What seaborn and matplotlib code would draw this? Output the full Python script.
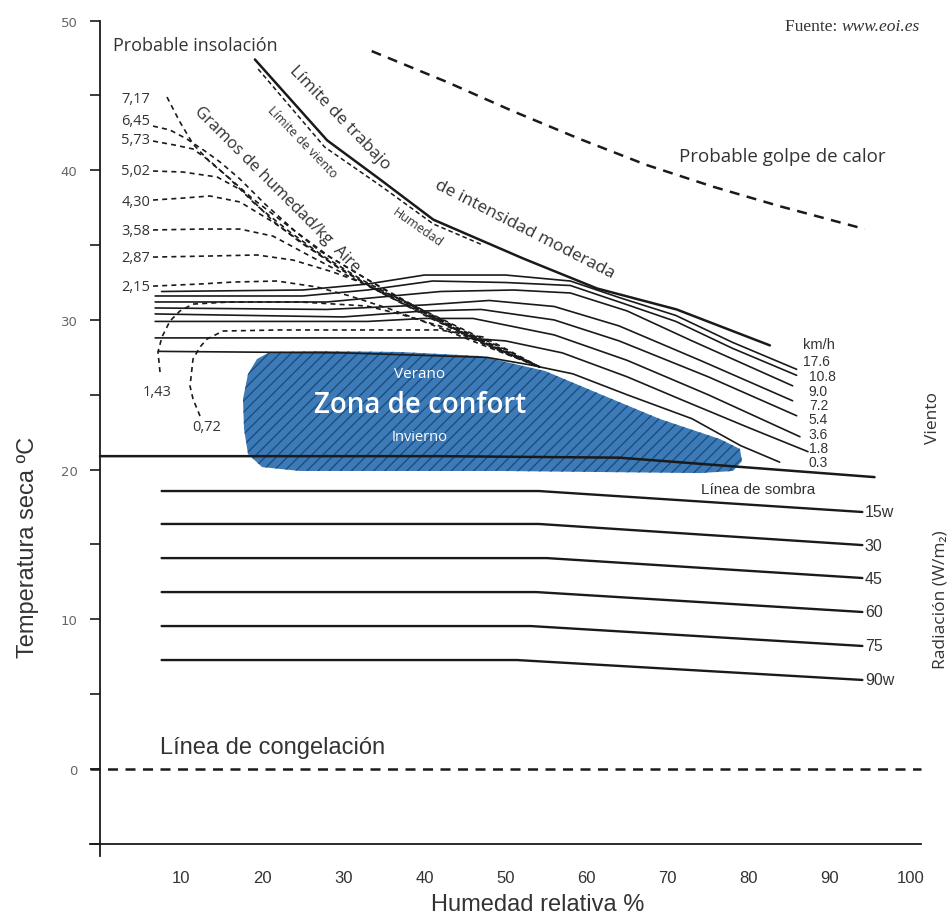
import matplotlib
matplotlib.use("Agg")
import pandas as pd
import matplotlib.pyplot as plt
import seaborn as sns
from matplotlib import font_manager

# --- values (x = humedad relativa %, y = temperatura seca ºC) ---
x_ticks = [10, 20, 30, 40, 50, 60, 70, 80, 90, 100]
y_ticks = [0, 10, 20, 30, 40, 50]
y_minor = [-5, 5, 15, 25, 35, 45]

# wind curves (km/h)
wind_labels = ["17.6", "10.8", "9.0", "7.2", "5.4", "3.6", "1.8", "0.3"]
wind_h = [
    [7.6, 25, 33, 40, 50, 58, 64, 71, 78, 85.9],
    [6.8, 25, 33, 41, 50, 58, 64, 71, 78, 85.9],
    [6.8, 28, 42, 51, 58, 65, 73, 85.4],
    [6.8, 28, 40, 48, 56, 64, 74, 85.4],
    [6.8, 30, 40, 47, 56, 64, 75, 85.9],
    [6.8, 33, 40, 46, 56, 65, 75, 86.3],
    [6.8, 45, 50, 57, 65, 72, 80, 87.3],
    [7.2, 30, 47.7, 53, 58.3, 65, 73, 79, 83.8],
]
wind_t = [
    [31.9, 32.0, 32.4, 33.0, 33.0, 32.6, 31.5, 30.3, 28.5, 26.7],
    [31.6, 31.6, 32.0, 32.6, 32.5, 32.3, 31.2, 29.9, 28.1, 26.3],
    [31.2, 31.2, 31.9, 32.0, 31.8, 30.6, 28.6, 25.6],
    [30.8, 30.7, 31.0, 31.3, 30.9, 29.6, 27.3, 24.6],
    [30.4, 30.2, 30.6, 30.7, 30.0, 28.6, 26.2, 23.6],
    [29.9, 29.9, 30.1, 30.1, 29.0, 27.3, 25.0, 22.2],
    [28.8, 28.8, 28.6, 27.8, 26.2, 24.6, 22.8, 21.2],
    [27.9, 27.8, 27.5, 27.0, 26.4, 25.0, 23.4, 21.6, 20.5],
]

# gramos de humedad / kg aire (dashed curves)
hum_labels = ["7,17", "6,45", "5,73", "5,02", "4,30", "3,58", "2,87", "2,15", "1,43", "0,72"]
hum_h = [
    [8.26, 9.86, 11.47, 13.56, 15.66, 18.87, 23.06, 27.13, 32.06, 36.99, 43.16, 49.32, 54.25],
    [6.54, 8.63, 10.73, 12.95, 14.80, 17.26, 20.35, 24.04, 28.36, 33.29, 39.46, 45.62, 54.25],
    [6.54, 9.25, 11.47, 13.56, 16.03, 19.24, 23.43, 27.50, 32.31, 38.22, 44.39, 50.55, 54.25],
    [6.54, 10.23, 14.43, 17.63, 21.33, 24.66, 28.36, 33.29, 39.46, 45.62, 54.25],
    [6.54, 10.23, 13.56, 17.26, 21.33, 25.52, 29.59, 34.53, 40.69, 46.86, 54.25],
    [6.54, 12.33, 17.26, 21.33, 25.89, 30.83, 35.76, 41.92, 48.09, 54.25],
    [6.54, 13.56, 19.36, 23.80, 28.73, 32.06, 36.99, 43.16, 49.32, 54.25],
    [6.54, 12.33, 16.40, 21.82, 26.76, 30.83, 35.76, 40.69, 46.86, 54.25],
    [7.40, 7.15, 7.64, 8.63, 9.86, 11.47, 16.03, 24.66, 32.92, 36.99, 41.92, 45.99, 50.18, 54.25],
    [12.33, 11.47, 11.10, 11.47, 12.33, 13.19, 15.17, 22.19, 29.59, 41.92, 47.23, 50.55, 54.25],
]
hum_t = [
    [44.89, 43.22, 41.75, 40.55, 39.61, 38.08, 36.34, 34.60, 33.00, 31.40, 29.66, 28.06, 26.85],
    [42.95, 42.69, 42.08, 41.28, 40.55, 39.41, 37.74, 35.94, 34.20, 32.60, 30.73, 29.06, 26.85],
    [41.95, 41.68, 41.42, 40.61, 39.41, 37.68, 35.87, 34.27, 32.67, 31.00, 29.26, 27.72, 26.85],
    [39.95, 39.88, 39.55, 38.61, 36.61, 35.20, 33.87, 32.26, 30.60, 28.92, 26.85],
    [38.01, 38.14, 38.28, 37.88, 36.54, 34.94, 33.40, 31.86, 30.13, 28.52, 26.85],
    [36.01, 36.07, 36.07, 35.60, 34.27, 32.87, 31.53, 29.86, 28.26, 26.85],
    [34.20, 34.27, 34.34, 34.00, 33.20, 32.53, 31.40, 29.79, 28.19, 26.85],
    [32.26, 32.40, 32.53, 32.60, 32.20, 31.60, 30.73, 29.73, 28.39, 26.85],
    [26.52, 27.86, 28.86, 29.93, 30.60, 31.06, 31.20, 31.20, 30.93, 30.39, 29.59, 28.72, 27.72, 26.85],
    [23.58, 24.72, 25.58, 27.39, 28.19, 28.72, 29.26, 29.33, 29.33, 29.33, 28.86, 27.92, 26.85],
]

# radiación (W/m2)
rad_labels = ["15w", "30", "45", "60", "75", "90w"]
rad_h = [
    [7.6, 54.1, 94.0],
    [7.6, 54.1, 94.0],
    [7.6, 55.1, 94.0],
    [7.6, 53.8, 94.0],
    [7.6, 53.1, 94.0],
    [7.6, 51.4, 94.0],
]
rad_t = [
    [18.57, 18.57, 17.17],
    [16.37, 16.37, 14.96],
    [14.09, 14.09, 12.76],
    [11.82, 11.82, 10.49],
    [9.55, 9.55, 8.22],
    [7.28, 7.28, 5.95],
]

# limit lines
trabajo_h = [19.1, 28.0, 34.5, 41.1, 52.2, 61.3, 71.1, 82.6]
trabajo_t = [47.4, 42.0, 39.4, 36.7, 34.1, 32.1, 30.7, 28.3]
viento_h = [19.5, 27.7, 34.5, 41.1, 47.0]
viento_t = [46.76, 41.55, 39.0, 36.41, 35.05]
calor_h = [33.5, 42.8, 50.9, 59.2, 67.4, 75.6, 83.8, 94.3]
calor_t = [47.96, 45.89, 43.95, 42.08, 40.35, 38.9, 37.6, 36.07]
sombra_h = [0, 42, 64, 95.5]
sombra_t = [20.9, 20.9, 20.8, 19.5]
congela_h = [-1.2, 101.2]
congela_t = [0, 0]

# zona de confort outline
comfort_h = [20.96, 27.13, 36.99, 46.86, 54.87, 61.65, 69.05, 76.45, 78.91, 79.16,
             78.05, 73.98, 61.65, 49.32, 36.99, 24.66, 19.98, 18.25, 17.76, 17.63,
             18.25, 19.36]
comfort_t = [27.86, 27.92, 27.86, 27.59, 26.59, 25.05, 23.38, 22.04, 21.38, 20.57,
             19.91, 19.77, 19.84, 19.91, 19.91, 19.91, 20.17, 21.04, 22.71, 24.72,
             26.39, 27.39]


def long_frame(names, hs, ts):
    rows = []
    for name, h_list, t_list in zip(names, hs, ts):
        for i, (h, t) in enumerate(zip(h_list, t_list)):
            rows.append({"curve": name, "order": i, "hum": h, "temp": t})
    return pd.DataFrame(rows)


sns.set_theme(style="white")
names = {f.name for f in font_manager.fontManager.ttflist}
NARROW = "Liberation Sans Narrow" if "Liberation Sans Narrow" in names else "Liberation Sans"
SANS = "Open Sans"
plt.rcParams["font.family"] = [SANS, "DejaVu Sans"]
plt.rcParams["hatch.linewidth"] = 1.0

fig = plt.figure(figsize=(9.51, 9.2), dpi=100)
ax = fig.add_axes([0, 0, 1, 1])
ax.set_facecolor("white")

INK = "#1a1a1a"

# comfort zone
ax.fill(comfort_h, comfort_t, facecolor="#3d7bb8", edgecolor="#1d4d7e",
        hatch="///", linewidth=0, zorder=1)

wind_df = long_frame(wind_labels, wind_h, wind_t)
sns.lineplot(data=wind_df, x="hum", y="temp", units="curve", estimator=None, sort=False,
             color=INK, lw=1.2, ax=ax, legend=False, zorder=3)

hum_df = long_frame(hum_labels, hum_h, hum_t)
sns.lineplot(data=hum_df, x="hum", y="temp", units="curve", estimator=None, sort=False,
             color=INK, lw=1.2, linestyle=(0, (3, 2.5)), ax=ax, legend=False, zorder=3)

rad_df = long_frame(rad_labels, rad_h, rad_t)
sns.lineplot(data=rad_df, x="hum", y="temp", units="curve", estimator=None, sort=False,
             color=INK, lw=1.7, ax=ax, legend=False, zorder=3)

limits = long_frame(["trabajo", "sombra"], [trabajo_h, sombra_h], [trabajo_t, sombra_t])
sns.lineplot(data=limits, x="hum", y="temp", units="curve", estimator=None, sort=False,
             color=INK, lw=1.8, ax=ax, legend=False, zorder=3)

sns.lineplot(x=viento_h, y=viento_t, sort=False, estimator=None, color=INK, lw=1.1,
             linestyle=(0, (3, 2)), ax=ax, zorder=3)
sns.lineplot(x=calor_h, y=calor_t, sort=False, estimator=None, color=INK, lw=1.8,
             linestyle=(0, (4, 3)), ax=ax, zorder=3)
sns.lineplot(x=congela_h, y=congela_t, sort=False, estimator=None, color=INK, lw=1.8,
             linestyle=(0, (4, 3)), ax=ax, zorder=3)

# axes frame
ax.set_xlim(-12.33, 104.93)
ax.set_ylim(-10.02, 51.44)
for side in ["top", "right"]:
    ax.spines[side].set_visible(False)
ax.spines["left"].set_position(("data", 0))
ax.spines["left"].set_bounds(-5.8, 50)
ax.spines["bottom"].set_position(("data", -5))
ax.spines["bottom"].set_bounds(-1.2, 101.2)
for side in ["left", "bottom"]:
    ax.spines[side].set_color(INK)
    ax.spines[side].set_linewidth(1.3)

ax.set_yticks(y_ticks)
ax.set_yticks(y_minor, minor=True)
ax.tick_params(axis="y", which="both", direction="out", length=7.2, width=1.2,
               color=INK, left=True)
ax.tick_params(axis="y", which="major", labelsize=9.5, labelcolor="#666666", pad=9)
for lab in ax.get_yticklabels():
    lab.set_fontfamily("DejaVu Sans")
ax.set_xticks(x_ticks)
ax.tick_params(axis="x", length=0, pad=19, labelsize=12, labelcolor="#333333")
for lab in ax.get_xticklabels():
    lab.set_fontfamily(NARROW)

ax.set_xlabel("Humedad relativa %", fontsize=17, color="#333333", fontfamily=NARROW)
ax.xaxis.set_label_coords(0.565, 1 - 905 / 920)
ax.xaxis.label.set_va("center")
ax.set_ylabel("Temperatura seca ºC", fontsize=17, color="#333333", fontfamily=NARROW)
ax.yaxis.set_label_coords(28 / 951, 1 - 547 / 920)
ax.yaxis.label.set_va("center")
ax.grid(False)

# annotations
txt = dict(color="#333333", zorder=5)
ax.text(1.6, 48.36, "Probable insolación", fontsize=13, ha="left", va="center", **txt)
ax.text(71.4, 40.95, "Probable golpe de calor", fontsize=13.5, ha="left", va="center", **txt)
ax.text(29.6, 43.55, "Límite de trabajo", fontsize=12.5, rotation=-46,
        ha="center", va="center", rotation_mode="anchor", **txt)
ax.text(52.4, 36.07, "de intensidad moderada", fontsize=12.5, rotation=-27,
        ha="center", va="center", rotation_mode="anchor", **txt)
ax.text(24.9, 41.95, "Límite de viento", fontsize=9, rotation=-46,
        ha="center", va="center", rotation_mode="anchor", **txt)
ax.text(39.2, 36.2, "Humedad", fontsize=9, rotation=-35,
        ha="center", va="center", rotation_mode="anchor", **txt)
ax.text(21.8, 38.74, "Gramos de humedad/kg  Aire", fontsize=12, rotation=-45,
        ha="center", va="center", rotation_mode="anchor", **txt)

hum_label_h = [4.4, 4.4, 4.4, 4.4, 4.4, 4.4, 4.4, 4.4, 7.0, 13.1]
hum_label_t = [44.76, 43.29, 42.08, 39.95, 37.94, 36.0, 34.14, 32.26, 25.25, 22.85]
for lab, h, t in zip(hum_labels, hum_label_h, hum_label_t):
    ax.text(h, t, lab, fontsize=10.5, ha="center", va="center", **txt)

ax.text(86.7, 28.39, "km/h", fontsize=10.5, ha="left", va="center", fontfamily=NARROW, **txt)
wind_label_h = [86.7, 87.4, 87.4, 87.4, 87.4, 87.4, 87.4, 87.4]
wind_label_t = [27.25, 26.25, 25.28, 24.32, 23.35, 22.38, 21.45, 20.51]
for lab, h, t in zip(wind_labels, wind_label_h, wind_label_t):
    ax.text(h, t, lab, fontsize=10, ha="left", va="center", fontfamily=NARROW, **txt)
ax.text(102.7, 23.5, "Viento", fontsize=12.5, rotation=90, ha="center", va="center", **txt)

rad_label_t = [17.17, 14.96, 12.76, 10.49, 8.28, 6.01]
for lab, t in zip(rad_labels, rad_label_t):
    ax.text(94.3, t, lab, fontsize=11.5, ha="left", va="center", fontfamily=NARROW, **txt)
ax.text(103.6, 11.36, "Radiación (W/m₂)", fontsize=12.5, rotation=90,
        ha="center", va="center", **txt)

ax.text(81.1, 18.7, "Línea de sombra", fontsize=11, ha="center", va="center",
        fontfamily=NARROW, **txt)
ax.text(7.4, 1.47, "Línea de congelación", fontsize=17, ha="left", va="center",
        fontfamily=NARROW, **txt)

ax.text(39.46, 26.39, "Verano", fontsize=11, color="white", ha="center", va="center", zorder=5)
ax.text(39.46, 24.38, "Zona de confort", fontsize=20, color="white", ha="center",
        va="center", fontweight="semibold", zorder=5)
ax.text(39.46, 22.18, "Invierno", fontsize=10.5, color="white", ha="center", va="center", zorder=5)

src = ax.text(101.1, 49.63, "www.eoi.es", fontsize=12.5, fontstyle="italic",
              fontfamily="Liberation Serif", ha="right", va="center", color="#333333")
ax.annotate("Fuente: ", xy=(0, 0.5), xycoords=src, fontsize=12.5,
            fontfamily="Liberation Serif", ha="right", va="center", color="#333333")

fig.savefig("out.png", dpi=100)
